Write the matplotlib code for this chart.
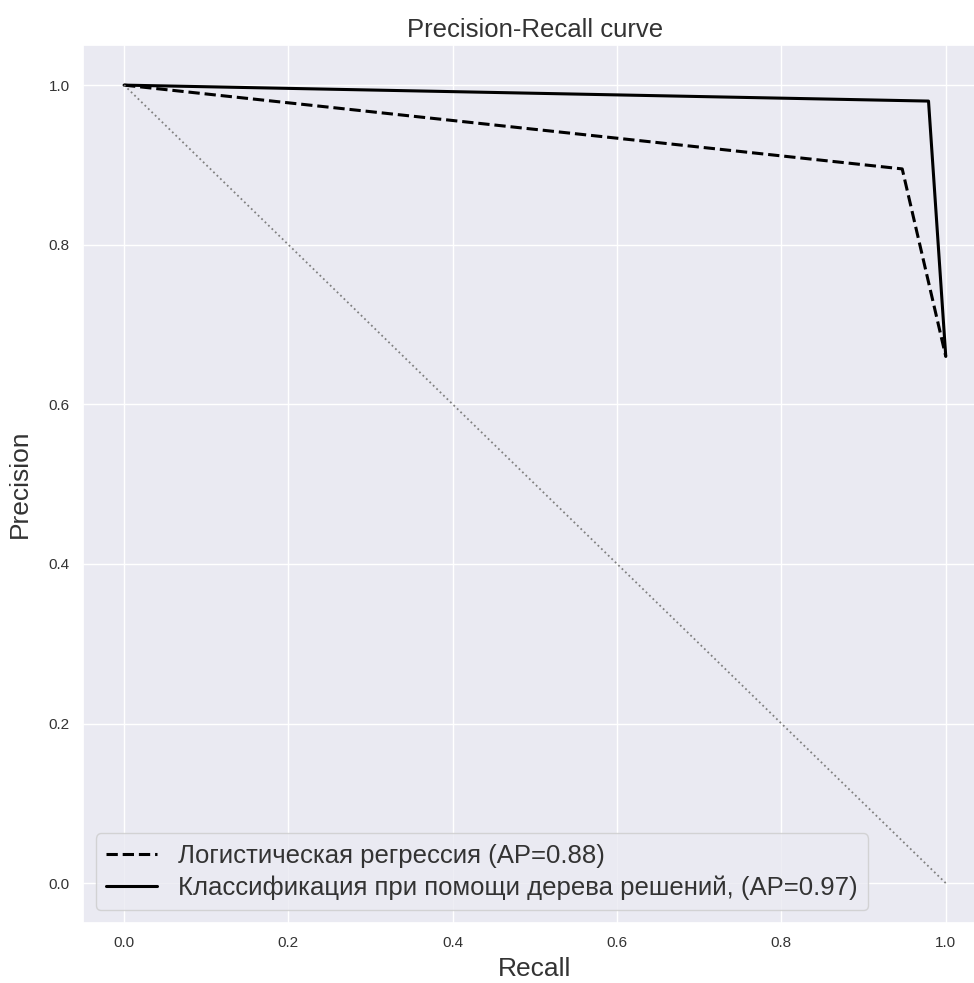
import matplotlib
matplotlib.use("Agg")
import matplotlib.pyplot as plt
import seaborn as sns

# precision-recall points
recall_lr = [0.0, 0.947, 1.0]
precision_lr = [1.0, 0.895, 0.66]
recall_tree = [0.0, 0.979, 1.0]
precision_tree = [1.0, 0.980, 0.66]
chance_x = [0.0, 1.0]
chance_y = [1.0, 0.0]

label_lr = "Логистическая регрессия (AP=0.88)"
label_tree = "Классификация при помощи дерева решений, (AP=0.97)"

sns.set_theme(style="darkgrid")
plt.rcParams["font.family"] = ["Liberation Sans", "DejaVu Sans"]

fig = plt.figure(figsize=(9.74, 9.83), dpi=100)
ax = fig.add_axes([0.0852, 0.061, 0.928, 0.893])

ax.plot(recall_lr, precision_lr, "--", color="black", lw=2.2, label=label_lr)
ax.plot(recall_tree, precision_tree, "-", color="black", lw=2.2, label=label_tree)
ax.plot(chance_x, chance_y, ":", color="gray", lw=1.3)

ax.set_xlim(-0.05, 1.05)
ax.set_ylim(-0.05, 1.05)
ax.tick_params(labelsize=11, colors="#333333")
ax.set_xlabel("Recall", fontsize=19, color="#333333", labelpad=5)
ax.set_ylabel("Precision", fontsize=19, color="#333333", labelpad=12)
ax.set_title("Precision-Recall curve", fontsize=18.5, color="#333333")
leg = ax.legend(loc="lower left", fontsize=18.5, labelspacing=0.3)
for t in leg.get_texts():
    t.set_color("#333333")

fig.savefig("out.png", dpi=100)
